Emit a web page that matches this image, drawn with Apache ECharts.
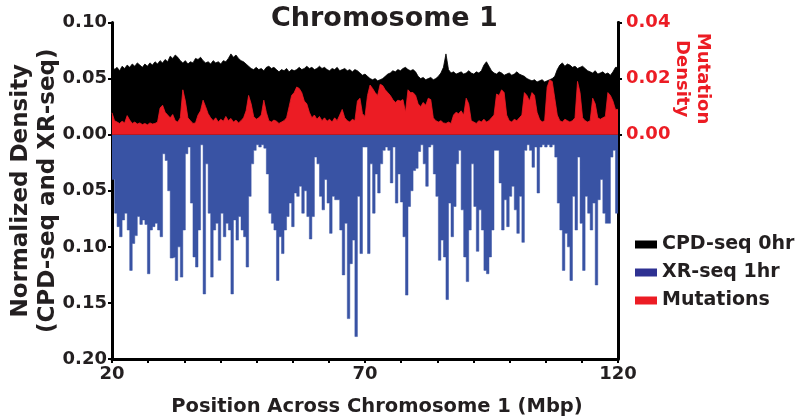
<!DOCTYPE html>
<html>
<head>
<meta charset="utf-8">
<script src="https://cdn.jsdelivr.net/npm/echarts@6/dist/echarts.min.js"></script>
<style>html,body{margin:0;padding:0;background:#fff;}#c{width:800px;height:419px;}</style>
</head>
<body>
<div id="c"></div>
<script>
// Bins of 0.5 Mbp starting at 20 Mbp
const binStartMbp = 20;
const binSizeMbp = 0.5;
const seriesNames = ['CPD-seq 0hr', 'XR-seq 1hr', 'Mutations'];
const xTicks = [20, 70, 120];

const cpdSeq0hr = [
0.062,0.058,0.060,0.057,0.061,0.059,0.062,0.060,0.063,0.061,
0.064,0.062,0.060,0.063,0.061,0.064,0.062,0.065,0.063,0.066,
0.064,0.067,0.065,0.070,0.068,0.071,0.069,0.066,0.064,0.066,
0.063,0.065,0.064,0.068,0.067,0.069,0.066,0.064,0.065,0.063,
0.066,0.064,0.065,0.063,0.066,0.065,0.068,0.072,0.069,0.071,
0.068,0.066,0.065,0.063,0.061,0.059,0.058,0.060,0.058,0.059,
0.057,0.060,0.061,0.059,0.060,0.058,0.056,0.058,0.057,0.059,
0.056,0.058,0.057,0.058,0.060,0.058,0.059,0.061,0.059,0.060,
0.058,0.059,0.061,0.059,0.060,0.058,0.057,0.059,0.058,0.060,
0.057,0.058,0.059,0.057,0.058,0.056,0.058,0.057,0.055,0.053,
0.054,0.052,0.050,0.049,0.050,0.048,0.049,0.050,0.052,0.054,
0.055,0.057,0.056,0.058,0.057,0.059,0.060,0.058,0.057,0.058,
0.056,0.052,0.050,0.051,0.049,0.050,0.051,0.049,0.050,0.052,
0.055,0.060,0.072,0.058,0.055,0.056,0.054,0.055,0.056,0.054,
0.055,0.057,0.055,0.054,0.056,0.055,0.057,0.062,0.065,0.061,
0.057,0.055,0.054,0.056,0.055,0.053,0.054,0.055,0.053,0.054,
0.056,0.054,0.053,0.052,0.050,0.049,0.048,0.049,0.047,0.048,
0.049,0.047,0.048,0.049,0.050,0.052,0.058,0.062,0.064,0.061,
0.063,0.062,0.060,0.061,0.059,0.060,0.061,0.059,0.057,0.056,
0.055,0.057,0.054,0.055,0.056,0.054,0.055,0.053,0.056,0.060
];

const xrSeq1hr = [
0.040,0.070,0.082,0.091,0.076,0.070,0.085,0.121,0.097,0.090,
0.073,0.080,0.076,0.080,0.124,0.085,0.082,0.079,0.085,0.091,
0.017,0.023,0.050,0.110,0.109,0.130,0.100,0.127,0.085,0.017,
0.011,0.061,0.109,0.118,0.085,0.009,0.142,0.026,0.070,0.127,
0.085,0.079,0.112,0.070,0.091,0.079,0.085,0.142,0.076,0.094,
0.073,0.085,0.091,0.118,0.055,0.026,0.014,0.009,0.011,0.009,
0.012,0.035,0.070,0.079,0.085,0.130,0.091,0.106,0.085,0.073,
0.061,0.082,0.052,0.055,0.046,0.070,0.050,0.073,0.093,0.073,
0.020,0.026,0.055,0.067,0.040,0.061,0.088,0.055,0.058,0.058,
0.085,0.125,0.079,0.164,0.115,0.094,0.180,0.055,0.106,0.011,
0.011,0.106,0.026,0.070,0.035,0.052,0.026,0.014,0.011,0.014,
0.043,0.011,0.061,0.035,0.060,0.091,0.143,0.064,0.050,0.032,
0.030,0.015,0.009,0.026,0.046,0.011,0.009,0.035,0.055,0.112,
0.094,0.109,0.147,0.061,0.091,0.064,0.026,0.014,0.067,0.109,
0.131,0.085,0.026,0.064,0.104,0.067,0.085,0.121,0.124,0.109,
0.085,0.014,0.014,0.043,0.085,0.058,0.082,0.055,0.046,0.067,
0.088,0.055,0.096,0.014,0.009,0.014,0.029,0.011,0.052,0.011,
0.009,0.011,0.009,0.011,0.009,0.020,0.061,0.085,0.121,0.088,
0.100,0.130,0.055,0.085,0.020,0.079,0.121,0.055,0.070,0.085,
0.061,0.134,0.058,0.040,0.070,0.079,0.079,0.020,0.014,0.070
];

const mutations = [
0.0078,0.0050,0.0045,0.0040,0.0048,0.0042,0.0068,0.0052,0.0040,0.0045,
0.0038,0.0042,0.0036,0.0040,0.0035,0.0042,0.0038,0.0040,0.0045,0.0095,
0.0105,0.0080,0.0070,0.0060,0.0072,0.0050,0.0045,0.0060,0.0160,0.0120,
0.0060,0.0050,0.0040,0.0042,0.0070,0.0085,0.0123,0.0100,0.0075,0.0060,
0.0050,0.0060,0.0045,0.0055,0.0048,0.0065,0.0050,0.0058,0.0045,0.0052,
0.0042,0.0050,0.0060,0.0085,0.0140,0.0110,0.0065,0.0055,0.0060,0.0070,
0.0123,0.0080,0.0050,0.0045,0.0052,0.0048,0.0040,0.0045,0.0050,0.0060,
0.0100,0.0140,0.0150,0.0170,0.0165,0.0150,0.0120,0.0110,0.0080,0.0060,
0.0070,0.0055,0.0065,0.0050,0.0060,0.0048,0.0055,0.0045,0.0060,0.0050,
0.0070,0.0090,0.0060,0.0050,0.0045,0.0055,0.0050,0.0120,0.0130,0.0075,
0.0065,0.0140,0.0177,0.0165,0.0150,0.0140,0.0180,0.0175,0.0160,0.0150,
0.0140,0.0125,0.0115,0.0123,0.0120,0.0125,0.0080,0.0160,0.0150,0.0150,
0.0140,0.0110,0.0100,0.0115,0.0105,0.0130,0.0125,0.0060,0.0050,0.0045,
0.0050,0.0042,0.0040,0.0045,0.0040,0.0070,0.0080,0.0075,0.0085,0.0070,
0.0130,0.0110,0.0050,0.0045,0.0040,0.0050,0.0045,0.0055,0.0045,0.0050,
0.0060,0.0070,0.0145,0.0140,0.0160,0.0150,0.0070,0.0050,0.0045,0.0055,
0.0050,0.0060,0.0070,0.0150,0.0140,0.0120,0.0150,0.0140,0.0080,0.0055,
0.0045,0.0050,0.0170,0.0195,0.0190,0.0130,0.0070,0.0050,0.0045,0.0055,
0.0050,0.0045,0.0050,0.0060,0.0190,0.0150,0.0060,0.0050,0.0045,0.0050,
0.0130,0.0110,0.0060,0.0055,0.0060,0.0065,0.0150,0.0140,0.0120,0.0090
];

// build [x, y] pairs (bin start), closing point at the end of the last bin
function toSteps(values, sign) {
  const out = values.map((v, i) => [binStartMbp + i * binSizeMbp, sign * v]);
  out.push([binStartMbp + values.length * binSizeMbp, sign * values[values.length - 1]]);
  return out;
}

const FONT = 'DejaVu Sans';
const RED = '#ec1c24';
const BLUE = '#3953a4';
const TXT = '#231f20';
const chart = echarts.init(document.getElementById('c'), null, {renderer: 'canvas'});

const GL = 112, GR = 182, GT = 22.5, GB = 60;
const H = 419 - GT - GB;
const zeroY = GT + H / 3;

chart.setOption({
  animation: false,
  backgroundColor: '#fff',
  title: {
    text: 'Chromosome 1',
    left: 266, top: 0,
    textStyle: {fontFamily: FONT, fontWeight: 'bold', fontSize: 27, color: TXT}
  },
  legend: {
    orient: 'vertical',
    left: 630, top: 229,
    itemWidth: 22, itemHeight: 8, itemGap: 7,
    icon: 'rect',
    textStyle: {fontFamily: FONT, fontWeight: 'bold', fontSize: 19, color: TXT, lineHeight: 21},
    data: [
      {name: seriesNames[0], itemStyle: {color: '#000'}},
      {name: seriesNames[1], itemStyle: {color: '#2e3192'}},
      {name: seriesNames[2], itemStyle: {color: RED}}
    ]
  },
  grid: [
    {left: GL, right: GR, top: GT, bottom: GB, containLabel: false, outerBoundsMode: 'none'},
    {left: GL, right: GR, top: GT, bottom: 419 - zeroY, containLabel: false, outerBoundsMode: 'none'}
  ],
  xAxis: [
    {
      type: 'value', gridIndex: 0, min: 20, max: 120, interval: 50,
      splitLine: {show: false},
      axisLine: {show: true, onZero: false, lineStyle: {color: '#000', width: 3}},
      axisTick: {show: true, length: 4, lineStyle: {color: '#000', width: 2}},
      minorTick: {show: true, splitNumber: 7, length: 4, lineStyle: {color: '#000', width: 2}},
      axisLabel: {fontFamily: FONT, fontWeight: 'bold', fontSize: 18, color: TXT, margin: 6,
        formatter: v => xTicks.indexOf(v) >= 0 ? String(v) : ''},
      name: 'Position Across Chromosome 1 (Mbp)',
      nameLocation: 'middle', nameGap: 38, nameMoveOverlap: false,
      nameTextStyle: {fontFamily: FONT, fontWeight: 'bold', fontSize: 19.5, color: TXT, padding: [0, 0, 0, 24]}
    },
    {
      type: 'value', gridIndex: 1, min: 20, max: 120, interval: 50,
      splitLine: {show: false},
      axisLine: {show: true, onZero: false, lineStyle: {color: '#000', width: 2}},
      axisTick: {show: false}, axisLabel: {show: false}
    }
  ],
  yAxis: [
    {
      type: 'value', gridIndex: 0, min: -0.2, max: 0.1, interval: 0.05,
      position: 'left',
      splitLine: {show: false},
      axisLine: {show: true, lineStyle: {color: '#000', width: 3}},
      axisTick: {show: true, length: 4, lineStyle: {color: '#000', width: 2}},
      axisLabel: {fontFamily: FONT, fontWeight: 'bold', fontSize: 18, color: TXT, margin: 5,
        formatter: v => Math.abs(v).toFixed(2)},
      name: 'Normalized Density\n(CPD-seq and XR-seq)',
      nameLocation: 'middle', nameGap: 50, nameRotate: 90, nameMoveOverlap: false,
      nameTextStyle: {fontFamily: FONT, fontWeight: 'bold', fontSize: 23, color: TXT, lineHeight: 27}
    },
    {
      type: 'value', gridIndex: 0, min: -0.2, max: 0.1, position: 'right',
      splitLine: {show: false},
      axisLine: {show: true, lineStyle: {color: '#000', width: 3}},
      axisTick: {show: false}, axisLabel: {show: false}
    },
    {
      type: 'value', gridIndex: 1, min: 0, max: 0.04, interval: 0.02,
      position: 'right',
      splitLine: {show: false},
      axisLine: {show: true, lineStyle: {color: '#000', width: 3}},
      axisTick: {show: true, length: 4, lineStyle: {color: '#000', width: 2}},
      axisLabel: {fontFamily: FONT, fontWeight: 'bold', fontSize: 18, color: RED, margin: 8,
        formatter: v => v.toFixed(2)},
      name: 'Mutation\nDensity',
      nameLocation: 'middle', nameGap: 53, nameRotate: -90, nameMoveOverlap: false,
      nameTextStyle: {fontFamily: FONT, fontWeight: 'bold', fontSize: 18, color: RED, lineHeight: 21}
    }
  ],
  series: [
    {
      name: seriesNames[0], type: 'line', xAxisIndex: 0, yAxisIndex: 0,
      data: toSteps(cpdSeq0hr, 1), symbol: 'none',
      lineStyle: {color: '#000', width: 0.8}, itemStyle: {color: '#000'},
      areaStyle: {color: '#000', opacity: 1}, z: 2
    },
    {
      name: seriesNames[1], type: 'line', xAxisIndex: 0, yAxisIndex: 0,
      data: toSteps(xrSeq1hr, -1), step: 'end', symbol: 'none',
      lineStyle: {color: BLUE, width: 0.5}, itemStyle: {color: BLUE},
      areaStyle: {color: BLUE, opacity: 1}, z: 2
    },
    {
      name: seriesNames[2], type: 'line', xAxisIndex: 1, yAxisIndex: 2,
      data: toSteps(mutations, 1), symbol: 'none',
      lineStyle: {color: RED, width: 0.8}, itemStyle: {color: RED},
      areaStyle: {color: RED, opacity: 1}, z: 3
    }
  ]
});
</script>
</body>
</html>
